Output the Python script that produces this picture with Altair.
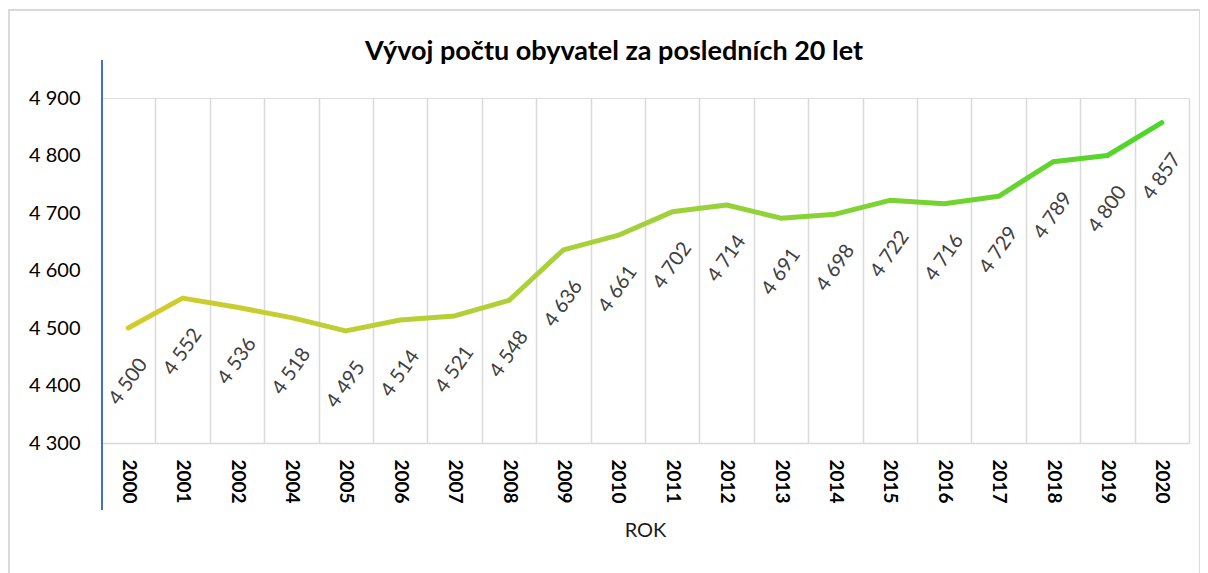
import altair as alt
import pandas as pd

years = ["2000", "2001", "2002", "2004", "2005", "2006", "2007", "2008", "2009", "2010",
         "2011", "2012", "2013", "2014", "2015", "2016", "2017", "2018", "2019", "2020"]
population = [4500, 4552, 4536, 4518, 4495, 4514, 4521, 4548, 4636, 4661,
              4702, 4714, 4691, 4698, 4722, 4716, 4729, 4789, 4800, 4857]
y_ticks = [4300, 4400, 4500, 4600, 4700, 4800, 4900]

df = pd.DataFrame({"rok": years, "pocet": population})
df["label"] = [f"{v:,}".replace(",", " ") for v in population]

FONT = "Lato"
W, H = 1088, 345

xenc = alt.X("rok:N", sort=years, title="ROK",
             scale=alt.Scale(paddingInner=0, paddingOuter=0),
             axis=alt.Axis(labelAngle=90, labelFontWeight="bold", labelFontSize=19,
                           labelColor="#000000", labelPadding=16, labelFont=FONT,
                           ticks=False, grid=True, tickBand="extent",
                           gridColor="#d9d9d9", gridWidth=1.5,
                           domainColor="#d9d9d9", domainWidth=1.5,
                           titleFont=FONT, titleFontSize=20, titleFontWeight="normal",
                           titleColor="#1a1a1a", titlePadding=17))
yenc = alt.Y("pocet:Q", scale=alt.Scale(domain=[4300, 4900], nice=False, zero=False),
             axis=alt.Axis(values=y_ticks, title=None, domain=False, ticks=False, grid=False,
                           labelExpr="replace(format(datum.value, ','), ',', ' ')",
                           labelFont=FONT, labelFontSize=20, labelColor="#000000",
                           labelPadding=21))

grad = alt.Gradient(
    gradient="linear",
    stops=[alt.GradientStop(color="#d2cc2c", offset=0),
           alt.GradientStop(color="#a3d13b", offset=0.5),
           alt.GradientStop(color="#4ed52a", offset=1)],
    x1=0, x2=1, y1=0, y2=0)

line = alt.Chart(df).mark_line(stroke=grad, strokeWidth=5, strokeCap="round",
                               strokeJoin="round").encode(x=xenc, y=yenc)

labels = alt.Chart(df).mark_text(angle=305, align="center", baseline="middle",
                                 dx=-44, dy=31, font=FONT, fontSize=20,
                                 color="#404040").encode(
    x=alt.X("rok:N", sort=years), y="pocet:Q", text="label:N")

border = alt.Chart(df).mark_rect(filled=False, stroke="#d9d9d9", strokeWidth=1.5).encode(
    x=alt.value(-92.5), x2=alt.value(1099), y=alt.value(-88), y2=alt.value(600))

blue = alt.Chart(df).mark_rule(color="#4472c4", strokeWidth=1.2).encode(
    x=alt.value(1), y=alt.value(-38), y2=alt.value(412))

chart = alt.layer(border, line, labels, blue).properties(
    width=W, height=H,
    title=alt.Title("Vývoj počtu obyvatel za posledních 20 let", font=FONT, fontSize=27,
                    fontWeight="bold", color="#000000", dx=-31, offset=0,
                    baseline="alphabetic", dy=78),
    autosize=alt.AutoSizeParams(type="none"),
    padding={"left": 93, "top": 90, "right": 11, "bottom": 130},
).configure_view(stroke=None).configure(background="white")

chart.save("out.html", embed_options={"renderer": "svg", "actions": False})
